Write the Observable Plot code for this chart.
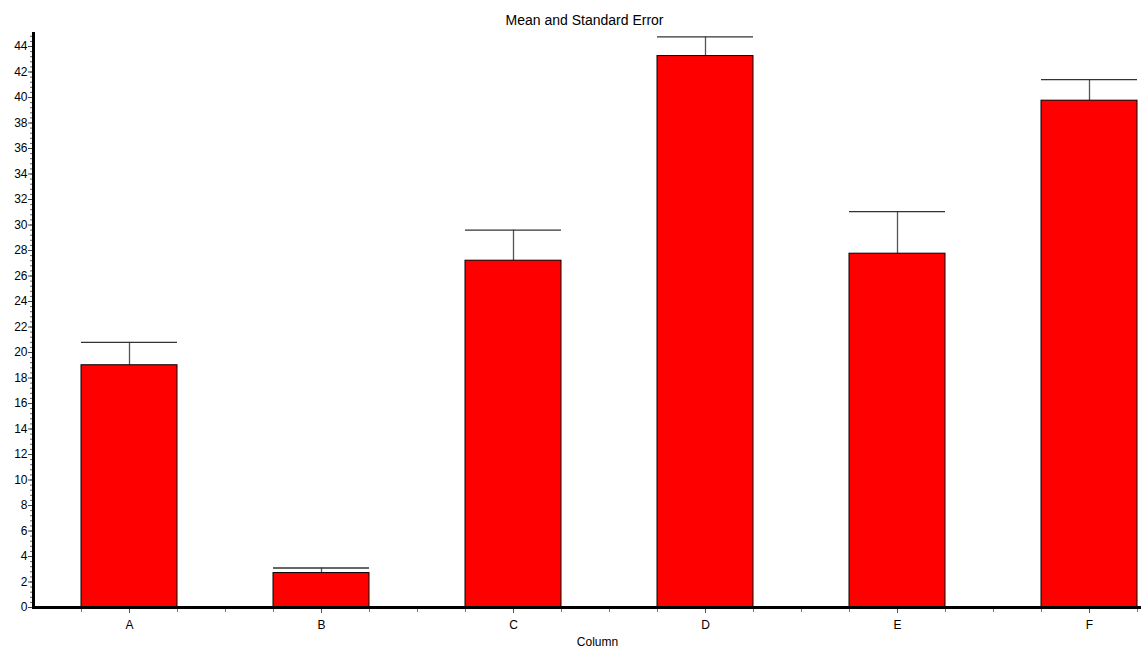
<!DOCTYPE html>
<html>
<head>
<meta charset="utf-8">
<script src="https://cdn.jsdelivr.net/npm/d3@7"></script>
<script src="https://cdn.jsdelivr.net/npm/@observablehq/plot@0.6"></script>
<style>
  html, body { margin: 0; padding: 0; background: #fff; }
  #chart svg { display: block; }
</style>
</head>
<body>
<div id="chart"></div>
<script>
const columns = ["A", "B", "C", "D", "E", "F"];
const means = [19.0, 2.7, 27.2, 43.25, 27.75, 39.75];
const errors = [1.8, 0.4, 2.4, 1.5, 3.3, 1.65];
const yTicks = [0, 2, 4, 6, 8, 10, 12, 14, 16, 18, 20, 22, 24, 26, 28, 30, 32, 34, 36, 38, 40, 42, 44];
const yMinorTicks = d3.range(0, 45.01, 0.4).map(v => +v.toFixed(1));
const title = "Mean and Standard Error";
const xLabel = "Column";

const data = columns.map((c, i) => ({col: c, mean: means[i], upper: means[i] + errors[i]}));

const chart = Plot.plot({
  width: 1141,
  height: 650,
  marginTop: 33,
  marginBottom: 43,
  marginLeft: 33,
  marginRight: 0,
  style: {fontFamily: "'Liberation Sans', Arial, sans-serif", fontSize: "12px", color: "#000", background: "#fff", overflow: "hidden"},
  x: {domain: columns, range: [33, 1185], paddingInner: 0.5, paddingOuter: 0.25, align: 0.5, label: null},
  y: {domain: [0, 45], range: [607, 33.25], label: null},
  marks: [
    Plot.ruleX(data, {x: "col", y1: "mean", y2: "upper", stroke: "#555", strokeWidth: 1.3}),
    Plot.tickY(data, {x: "col", y: "upper", stroke: "#333", strokeWidth: 1.3}),
    Plot.barY(data, {x: "col", y: "mean", fill: "#ff0000", stroke: "#000", strokeWidth: 1}),
    Plot.axisY(yMinorTicks, {tickSize: 3, text: null, stroke: "#666", label: null}),
    Plot.axisY(yTicks, {tickSize: 5, tickPadding: 1, stroke: "#444", fontSize: 12, label: null}),
    Plot.axisX(columns, {tickSize: 6, tickPadding: 7, stroke: "#555", fontSize: 12, label: null}),
    Plot.axisX(columns, {tickSize: 5, text: null, dx: -48, stroke: "#777", label: null}),
    Plot.axisX(columns, {tickSize: 5, text: null, dx: 48, stroke: "#777", label: null}),
    Plot.axisX(columns, {tickSize: 5, text: null, dx: 96, stroke: "#777", label: null}),
    Plot.frame({anchor: "left", stroke: "#000", strokeWidth: 3}),
    Plot.frame({anchor: "bottom", stroke: "#000", strokeWidth: 3}),
    Plot.text([title], {frameAnchor: "top", dy: -18, dx: -3, fontSize: 14, fill: "#000"}),
    Plot.text([xLabel], {frameAnchor: "bottom", dy: 38, dx: 10, fontSize: 12, fill: "#000"})
  ]
});
document.getElementById("chart").appendChild(chart);
</script>
</body>
</html>
